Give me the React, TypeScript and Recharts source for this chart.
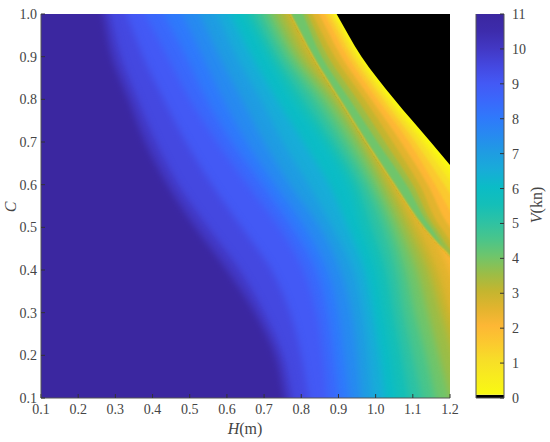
import React from 'react';
import { Area, AreaChart, Bar, BarChart, ReferenceArea, XAxis, YAxis } from 'recharts';

// C rows, top to bottom
const cRows = [1.0, 0.9, 0.8, 0.7, 0.6, 0.5, 0.4, 0.3, 0.2, 0.1];

// the sharp ridge where V jumps back up
const ridge = [0.774, 0.835, 0.906, 0.978, 1.054, 1.133, 1.24, 1.35, 1.46, 1.58];

// H where V falls to a level, right of the ridge (the branch next to the black limit)
const rightV0 = [0.895, 0.962, 1.05, 1.148, 1.245, 1.345, 1.45, 1.6, 1.7, 1.8];
const rightV05 = [0.89, 0.957, 1.042, 1.136, 1.228, 1.325, 1.43, 1.6, 1.7, 1.8];
const rightV1 = [0.885, 0.95, 1.032, 1.123, 1.208, 1.3, 1.4, 1.6, 1.7, 1.8];
const rightV15 = [0.875, 0.938, 1.02, 1.107, 1.185, 1.265, 1.37, 1.6, 1.7, 1.8];
const rightV2 = [0.863, 0.925, 1.005, 1.09, 1.16, 1.23, 1.34, 1.6, 1.7, 1.8];
const rightV25 = [0.848, 0.908, 0.988, 1.068, 1.14, 1.2, 1.31, 1.6, 1.7, 1.8];
const rightV3 = [0.83, 0.89, 0.97, 1.046, 1.118, 1.175, 1.29, 1.6, 1.7, 1.8];
const rightV35 = [0.817, 0.872, 0.95, 1.025, 1.1, 1.16, 1.27, 1.6, 1.7, 1.8];
const rightV4 = [0.805, 0.855, 0.93, 1.005, 1.083, 1.148, 1.255, 1.6, 1.7, 1.8];

// H where V falls to a level, left of the ridge
const leftV2 = [0.8, 0.86, 0.94, 1.02, 1.09, 1.17, 1.25, 1.34, 1.38, 1.42];
const leftV25 = [0.79, 0.85, 0.93, 1.0, 1.07, 1.15, 1.2, 1.25, 1.3, 1.34];
const leftV3 = [0.774, 0.835, 0.915, 0.985, 1.048, 1.11, 1.165, 1.2, 1.25, 1.28];
const leftV35 = [0.752, 0.81, 0.895, 0.965, 1.03, 1.088, 1.14, 1.175, 1.21, 1.24];
const leftV4 = [0.728, 0.788, 0.876, 0.949, 1.01, 1.064, 1.11, 1.14, 1.17, 1.2];
const leftV45 = [0.708, 0.768, 0.853, 0.926, 0.99, 1.042, 1.08, 1.105, 1.135, 1.16];
const leftV5 = [0.688, 0.747, 0.83, 0.903, 0.97, 1.02, 1.055, 1.075, 1.1, 1.125];
const leftV55 = [0.666, 0.727, 0.803, 0.88, 0.948, 0.99, 1.028, 1.048, 1.07, 1.09];
const leftV6 = [0.643, 0.707, 0.775, 0.857, 0.925, 0.96, 1.0, 1.02, 1.04, 1.056];
const leftV65 = [0.608, 0.667, 0.733, 0.805, 0.875, 0.925, 0.97, 0.992, 1.01, 1.024];
const leftV7 = [0.573, 0.626, 0.69, 0.75, 0.82, 0.885, 0.94, 0.965, 0.98, 0.99];
const leftV75 = [0.527, 0.58, 0.64, 0.7, 0.77, 0.85, 0.905, 0.935, 0.95, 0.96];
const leftV8 = [0.48, 0.535, 0.59, 0.653, 0.73, 0.81, 0.87, 0.9, 0.915, 0.93];
const leftV85 = [0.43, 0.49, 0.545, 0.613, 0.695, 0.775, 0.84, 0.87, 0.887, 0.9];
const leftV9 = [0.38, 0.44, 0.5, 0.573, 0.655, 0.74, 0.805, 0.84, 0.858, 0.868];
const leftV95 = [0.33, 0.375, 0.43, 0.49, 0.56, 0.64, 0.72, 0.77, 0.8, 0.82];
const leftV10 = [0.285, 0.315, 0.36, 0.41, 0.47, 0.55, 0.635, 0.7, 0.75, 0.775];
const leftV104 = [0.267, 0.29, 0.335, 0.38, 0.44, 0.515, 0.6, 0.675, 0.73, 0.755];

const levels = [0, 0.5, 1, 1.5, 2, 2.5, 3, 3.5, 4, 4.5, 5, 5.5, 6, 6.5, 7, 7.5, 8, 8.5, 9, 9.5, 10, 10.5, 11];
const levelColors = [
  '#f9f911', '#f8ec1e', '#f7de28', '#fbc92f', '#fdb735', '#e2b42e', '#c4b52f', '#9bbd47', '#6fc56b',
  '#49c58b', '#2dc2a4', '#14bfb8', '#0bbcc6', '#18acd8', '#1f9ce2', '#278af0', '#2f79fb', '#3a68fb',
  '#4359f5', '#4448e0', '#4238c4', '#3d2cac', '#3b27a0',
];

const colorOf = (v: number) => levelColors[levels.indexOf(v)];

type Band = { key: string; values: number[]; color: string };

const leftBands: Band[] = [
  { key: 'l2', values: leftV2, color: colorOf(2) },
  { key: 'l25', values: leftV25, color: colorOf(2.5) },
  { key: 'l3', values: leftV3, color: colorOf(3) },
  { key: 'l35', values: leftV35, color: colorOf(3.5) },
  { key: 'l4', values: leftV4, color: colorOf(4) },
  { key: 'l45', values: leftV45, color: colorOf(4.5) },
  { key: 'l5', values: leftV5, color: colorOf(5) },
  { key: 'l55', values: leftV55, color: colorOf(5.5) },
  { key: 'l6', values: leftV6, color: colorOf(6) },
  { key: 'l65', values: leftV65, color: colorOf(6.5) },
  { key: 'l7', values: leftV7, color: colorOf(7) },
  { key: 'l75', values: leftV75, color: colorOf(7.5) },
  { key: 'l8', values: leftV8, color: colorOf(8) },
  { key: 'l85', values: leftV85, color: colorOf(8.5) },
  { key: 'l9', values: leftV9, color: colorOf(9) },
  { key: 'l95', values: leftV95, color: colorOf(9.5) },
  { key: 'l10', values: leftV10, color: colorOf(10) },
  { key: 'l104', values: leftV104, color: colorOf(11) },
];

const rightBands: Band[] = [
  { key: 'r0', values: rightV0, color: colorOf(0) },
  { key: 'r05', values: rightV05, color: colorOf(0.5) },
  { key: 'r1', values: rightV1, color: colorOf(1) },
  { key: 'r15', values: rightV15, color: colorOf(1.5) },
  { key: 'r2', values: rightV2, color: colorOf(2) },
  { key: 'r25', values: rightV25, color: colorOf(2.5) },
  { key: 'r3', values: rightV3, color: colorOf(3) },
  { key: 'r35', values: rightV35, color: colorOf(3.5) },
  { key: 'r4', values: rightV4, color: colorOf(4) },
];

const allBands = [{ key: 'ridge', values: ridge, color: '' }, ...leftBands, ...rightBands];

const rowOf = (c: number, index: number) => {
  const row: Record<string, number> = { c };
  allBands.forEach(band => {
    row[band.key] = band.values[index];
  });
  return row;
};
// rows just outside the frame carry on the slope of the end rows, so soft edges and curve ends stay out of view
const outerRow = (c: number, end: number, next: number) => {
  const row: Record<string, number> = { c };
  allBands.forEach(band => {
    row[band.key] = band.values[end] + (band.values[end] - band.values[next]) * 0.5;
  });
  return row;
};
const chartData = [outerRow(1.05, 0, 1), ...cRows.map(rowOf), outerRow(0.05, cRows.length - 1, cRows.length - 2)];

const hTicks = [0.1, 0.2, 0.3, 0.4, 0.5, 0.6, 0.7, 0.8, 0.9, 1.0, 1.1, 1.2];
const cTicks = [0.1, 0.2, 0.3, 0.4, 0.5, 0.6, 0.7, 0.8, 0.9, 1.0];
const vTicks = [0, 1, 2, 3, 4, 5, 6, 7, 8, 9, 10, 11];

const blackTop = 0.09;
const barData = [{ name: 'V', limit: blackTop, speed: 11 - blackTop }];

const serif = '"Liberation Serif", "Times New Roman", serif';
const ink = '#444444';
const tickFont = { fontSize: 14, fontFamily: serif, fill: ink };
const frame = { stroke: '#555555', strokeWidth: 1 };
const inTick = { stroke: '#333333', strokeWidth: 1 };
const fixed = (v: number) => v.toFixed(1);
const layer = { position: 'absolute', left: 0, top: 0 } as const;
const barLayer = { position: 'absolute', left: 450, top: 0 } as const;

const sheet = `.soft path { filter: blur(3.5px); }
.fine path { filter: blur(1px); }
.recharts-cartesian-axis-tick-value, .recharts-cartesian-axis-tick-value tspan { font-family: ${serif}; }`;

export default function App() {
  return (
    <div style={{ position: 'absolute', left: 0, top: 0, width: 550, height: 442, background: '#fff' }}>
      <style>{sheet}</style>

      {/* the filled bands */}
      <div style={layer}>
        <AreaChart
          width={550}
          height={442}
          layout="vertical"
          data={chartData}
          margin={{ top: 14, right: 100, bottom: 44, left: 41 }}
        >
          <XAxis xAxisId="h" type="number" domain={[0.1, 1.2]} allowDataOverflow hide />
          <YAxis yAxisId="c" dataKey="c" type="number" domain={[0.1, 1]} allowDataOverflow reversed hide />
          <ReferenceArea xAxisId="h" yAxisId="c" x1={0.1} x2={1.2} y1={0.1} y2={1} fill="#000000" fillOpacity={1} />
          {leftBands.map(band => (
            <Area
              key={band.key}
              xAxisId="h"
              yAxisId="c"
              dataKey={band.key}
              type="monotone"
              baseValue={-0.5}
              stroke="none"
              fill={band.color}
              fillOpacity={1}
              dot={false}
              activeDot={false}
              className="soft"
              isAnimationActive={false}
            />
          ))}
          {rightBands.map(band => (
            <Area
              key={band.key}
              xAxisId="h"
              yAxisId="c"
              name={band.key}
              dataKey={(row: Record<string, number>) => [row.ridge, row[band.key]]}
              type="monotone"
              stroke="none"
              fill={band.color}
              fillOpacity={1}
              dot={false}
              activeDot={false}
              className={band.key === 'r0' ? undefined : 'fine'}
              isAnimationActive={false}
            />
          ))}
        </AreaChart>
      </div>

      {/* frame, ticks and labels go on top of the bands */}
      <div style={layer}>
        <AreaChart
          width={550}
          height={442}
          layout="vertical"
          data={chartData}
          margin={{ top: 14, right: 100, bottom: 0, left: 0 }}
        >
          <XAxis
            xAxisId="h"
            type="number"
            domain={[0.1, 1.2]}
            allowDataOverflow
            ticks={hTicks}
            interval={0}
            height={44}
            tick={tickFont}
            tickFormatter={fixed}
            tickSize={-4}
            tickMargin={10}
            axisLine={frame}
            tickLine={inTick}
          />
          <XAxis
            xAxisId="top"
            orientation="top"
            type="number"
            domain={[0.1, 1.2]}
            allowDataOverflow
            ticks={hTicks}
            interval={0}
            height={0}
            tick={false}
            tickSize={-4}
            axisLine={frame}
            tickLine={inTick}
          />
          <YAxis
            yAxisId="c"
            dataKey="c"
            type="number"
            domain={[0.1, 1]}
            allowDataOverflow
            reversed
            ticks={cTicks}
            interval={0}
            width={41}
            tick={tickFont}
            tickFormatter={fixed}
            tickSize={-4}
            tickMargin={8}
            axisLine={frame}
            tickLine={inTick}
          />
          <YAxis
            yAxisId="right"
            orientation="right"
            type="number"
            domain={[0.1, 1]}
            allowDataOverflow
            reversed
            ticks={cTicks}
            interval={0}
            width={0}
            tick={false}
            tickSize={-4}
            axisLine={frame}
            tickLine={inTick}
          />
          <text x={245} y={434} textAnchor="middle" fontFamily={serif} fontSize={16} fill={ink}>
            <tspan fontStyle="italic">H</tspan>(m)
          </text>
          <text
            x={0}
            y={0}
            transform="translate(16 207) rotate(-90)"
            textAnchor="middle"
            fontFamily={serif}
            fontSize={16}
            fontStyle="italic"
            fill={ink}
          >
            C
          </text>
        </AreaChart>
      </div>

      {/* colour bar */}
      <div style={barLayer}>
        <BarChart
          width={100}
          height={442}
          data={barData}
          barCategoryGap={0}
          margin={{ top: 14, right: 46, bottom: 44, left: 26 }}
        >
          <defs>
            <linearGradient id="speedScale" x1="0" y1="1" x2="0" y2="0">
              {levels.map((v, i) => (
                <stop key={v} offset={v / 11} stopColor={levelColors[i]} />
              ))}
            </linearGradient>
          </defs>
          <XAxis dataKey="name" hide />
          <YAxis type="number" domain={[0, 11]} hide />
          <Bar dataKey="limit" stackId="v" fill="#000000" isAnimationActive={false} />
          <Bar dataKey="speed" stackId="v" fill="url(#speedScale)" isAnimationActive={false} />
        </BarChart>
      </div>
      <div style={barLayer}>
        <BarChart width={100} height={442} data={barData} margin={{ top: 14, right: 0, bottom: 0, left: 0 }}>
          <XAxis dataKey="name" height={44} tick={false} tickLine={false} axisLine={frame} />
          <XAxis xAxisId="top" dataKey="name" orientation="top" height={0} tick={false} tickLine={false} axisLine={frame} />
          <YAxis yAxisId="left" type="number" domain={[0, 11]} width={26} tick={false} tickLine={false} axisLine={frame} />
          <YAxis
            orientation="right"
            type="number"
            domain={[0, 11]}
            ticks={vTicks}
            interval={0}
            width={46}
            tick={tickFont}
            tickSize={-4}
            tickMargin={12}
            axisLine={frame}
            tickLine={inTick}
          />
          <Bar dataKey="speed" fill="none" isAnimationActive={false} />
          <text
            x={0}
            y={0}
            transform="translate(92 205) rotate(-90)"
            textAnchor="middle"
            fontFamily={serif}
            fontSize={16}
            fill={ink}
          >
            <tspan fontStyle="italic">V</tspan>(kn)
          </text>
        </BarChart>
      </div>
    </div>
  );
}
